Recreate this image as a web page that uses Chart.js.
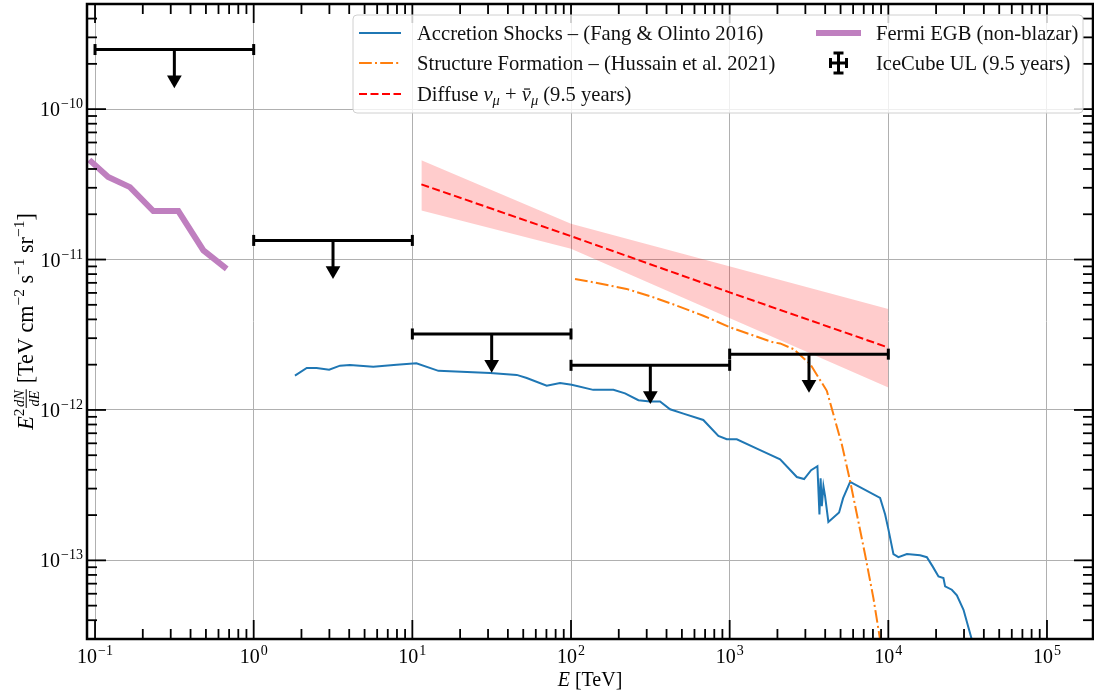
<!DOCTYPE html>
<html lang="en">
<head>
<meta charset="UTF-8">
<title>Neutrino flux upper limits</title>
<script src="https://cdn.jsdelivr.net/npm/chart.js@4.4.0/dist/chart.umd.min.js"></script>
<style>
  html, body { margin: 0; padding: 0; background: #fff; }
  #wrap { width: 1094px; height: 694px; }
</style>
</head>
<body>
<div id="wrap"><canvas id="c" width="1094" height="694"></canvas></div>
<script>
// energies in TeV, E^2 dN/dE in TeV cm^-2 s^-1 sr^-1
const fermiE = [0.092, 0.121, 0.166, 0.233, 0.335, 0.482, 0.676];
const fermiF = [4.6e-11, 3.54e-11, 3.03e-11, 2.10e-11, 2.10e-11, 1.15e-11, 8.67e-12];

const accE = [1.82, 2.16, 2.49, 2.99, 3.50, 4.04, 5.67, 7.96, 10.6, 14.6,
  30.9, 45.5, 52.6, 70.3, 85.3, 101, 138, 185, 219, 266,
  315, 364, 421, 511, 682, 849, 959, 1109, 1556, 2080,
  2651, 2946, 3261, 3573, 3680, 3743, 3809, 3899, 3994, 4190,
  4894, 5188, 5745, 8875, 9550, 10020, 10770, 11580, 13090, 15860,
  17490, 19020, 20710, 22250, 22800, 25130, 27040, 29780, 33600, 35260];
const accF = [1.69e-12, 1.90e-12, 1.90e-12, 1.85e-12, 1.97e-12, 1.99e-12, 1.94e-12, 2.00e-12, 2.04e-12, 1.82e-12,
  1.76e-12, 1.71e-12, 1.63e-12, 1.45e-12, 1.51e-12, 1.47e-12, 1.36e-12, 1.36e-12, 1.29e-12, 1.16e-12,
  1.14e-12, 1.14e-12, 1.01e-12, 9.45e-13, 8.58e-13, 6.71e-13, 6.38e-13, 6.38e-13, 5.41e-13, 4.69e-13,
  3.58e-13, 3.47e-13, 3.98e-13, 4.23e-13, 2.02e-13, 3.51e-13, 2.29e-13, 3.11e-13, 2.67e-13, 1.80e-13,
  2.08e-13, 2.59e-13, 3.33e-13, 2.60e-13, 2.02e-13, 1.60e-13, 1.10e-13, 1.05e-13, 1.10e-13, 1.08e-13,
  1.05e-13, 9.12e-14, 7.82e-14, 7.62e-14, 6.71e-14, 6.38e-14, 5.85e-14, 4.69e-14, 2.97e-14, 2.29e-14];

const sfE = [106, 138, 224, 323, 464, 682, 1007, 1888, 2080, 2523, 3216, 4096, 5090, 5745, 7140, 8054, 8875, 9270];
const sfF = [7.43e-12, 7.06e-12, 6.38e-12, 5.66e-12, 4.94e-12, 4.23e-12, 3.54e-12, 2.81e-12, 2.77e-12, 2.54e-12,
  2.02e-12, 1.34e-12, 5.91e-13, 3.36e-13, 1.09e-13, 5.61e-14, 2.97e-14, 1.55e-14];

const diffE = [11.4, 100, 1000, 10000];
const diffF = [3.16e-11, 1.43e-11, 6.05e-12, 2.6e-12];
const bandE = [11.4, 100, 10000];
const bandHi = [4.57e-11, 1.73e-11, 4.69e-12];
const bandLo = [2.12e-11, 1.18e-11, 1.41e-12];

const ulLo = [0.1, 1, 10, 100, 1000];
const ulHi = [1, 10, 100, 1000, 10000];
const ulVal = [2.49e-10, 1.34e-11, 3.20e-12, 1.98e-12, 2.35e-12];

const xDecades = [-1, 0, 1, 2, 3, 4, 5];
const yDecades = [-14, -13, -12, -11, -10];

const legendText = [
  'Accretion Shocks \u2013 (Fang & Olinto 2016)',
  'Structure Formation \u2013 (Hussain et al. 2021)',
  'Diffuse \u03bd\u03bc + \u03bd\u03bc (9.5 years)',
  'Fermi EGB (non-blazar)',
  'IceCube UL (9.5 years)'
];

const SERIF = '"Liberation Serif", "DejaVu Serif", serif';
const ARROW = 0.63; // arrow head centre sits this factor below the limit

const pts = (xs, ys) => xs.map((v, i) => ({ x: v, y: ys[i] }));

function logTicks(decades) {
  const out = [];
  decades.forEach(d => {
    for (let m = 1; m < 10; m++) out.push({ value: m * Math.pow(10, d), major: m === 1, exp: d });
  });
  return out;
}

const datasets = [
  { data: pts(bandE, bandLo), borderWidth: 0, pointRadius: 0, fill: false, order: 20 },
  { data: pts(bandE, bandHi), borderWidth: 0, pointRadius: 0, fill: '-1', backgroundColor: 'rgba(255,0,0,0.2)', order: 19 },
  { data: pts(fermiE, fermiF), borderColor: '#bf7fbf', borderWidth: 6, pointRadius: 0, order: 8 },
  { data: pts(accE, accF), borderColor: '#1f77b4', borderWidth: 2, pointRadius: 0, order: 7 },
  { data: pts(sfE, sfF), borderColor: '#ff7f0e', borderWidth: 2, borderDash: [12.8, 3.2, 2, 3.2], pointRadius: 0, order: 6 },
  { data: pts(diffE, diffF), borderColor: '#ff0000', borderWidth: 2, borderDash: [8, 3.5], pointRadius: 0, order: 5 }
];

ulVal.forEach((v, i) => {
  const c = Math.sqrt(ulLo[i] * ulHi[i]);
  datasets.push({
    data: [{ x: ulLo[i], y: v }, { x: ulHi[i], y: v }],
    borderColor: '#000', borderWidth: 3,
    pointStyle: 'line', pointRadius: 5.5, pointRotation: 90,
    pointBorderColor: '#000', pointBorderWidth: 3, order: 1
  });
  datasets.push({
    data: [{ x: c, y: v }, { x: c, y: v * ARROW }],
    borderColor: '#000', borderWidth: 3,
    pointStyle: 'triangle', pointRadius: [0, 8.5], pointRotation: 180,
    pointBackgroundColor: '#000', pointBorderWidth: 0, order: 1
  });
});

function runWidth(ctx, r) {
  ctx.font = r.f;
  if (r.frac) return Math.max(ctx.measureText(r.frac[0]).width, ctx.measureText(r.frac[1]).width) + 3;
  return ctx.measureText(r.t).width;
}

function drawRuns(ctx, runs, x, y) {
  ctx.textAlign = 'left';
  ctx.textBaseline = 'alphabetic';
  runs.forEach(r => {
    const w = runWidth(ctx, r);
    ctx.font = r.f;
    if (r.frac) {
      ctx.textAlign = 'center';
      ctx.fillText(r.frac[0], x + w / 2, y - 9);
      ctx.fillText(r.frac[1], x + w / 2, y + 5.5);
      ctx.fillRect(x + 0.5, y - 7.3, w - 1, 1);
      ctx.textAlign = 'left';
    } else {
      ctx.fillText(r.t, x, y + (r.dy || 0));
      if (r.macron) ctx.fillRect(x + w * 0.25, y - r.size * 0.6, w * 0.65, 1.2);
    }
    x += w;
  });
  return x;
}

function drawPow(ctx, exp, x, y, align) {
  const base = '10', sup = exp < 0 ? '\u2212' + (-exp) : String(exp);
  ctx.font = '20px ' + SERIF;
  const wb = ctx.measureText(base).width;
  ctx.font = '14px ' + SERIF;
  const ws = ctx.measureText(sup).width;
  const total = wb + ws + 1;
  const x0 = align === 'center' ? x - total / 2 : x - total;
  ctx.textAlign = 'left';
  ctx.textBaseline = 'alphabetic';
  ctx.font = '20px ' + SERIF;
  ctx.fillText(base, x0, y);
  ctx.font = '14px ' + SERIF;
  ctx.fillText(sup, x0 + wb + 1, y - 8);
}

function seg(ctx, x1, y1, x2, y2) {
  ctx.beginPath(); ctx.moveTo(x1, y1); ctx.lineTo(x2, y2); ctx.stroke();
}

function yTitleRuns(k) {
  const m = (20 * k) + 'px ' + SERIF, s = (14 * k) + 'px ' + SERIF;
  const d = -8 * k;
  return [
    { t: 'E', f: 'italic ' + m },
    { t: '2', f: s, dy: d },
    { frac: ['dN', 'dE'], f: 'italic ' + (13 * k) + 'px ' + SERIF },
    { t: ' [TeV cm', f: m },
    { t: '\u22122', f: s, dy: d },
    { t: ' s', f: m },
    { t: '\u22121', f: s, dy: d },
    { t: ' sr', f: m },
    { t: '\u22121', f: s, dy: d },
    { t: ']', f: m }
  ];
}

const decor = {
  id: 'decor',
  afterDatasetsDraw(chart) {
    const { ctx, chartArea: a, scales: { x, y } } = chart;
    ctx.save();
    ctx.strokeStyle = '#000';
    ctx.fillStyle = '#000';

    // inward ticks on all four sides
    ctx.lineWidth = 1.8;
    x.ticks.forEach(t => {
      const p = x.getPixelForValue(t.value);
      if (p < a.left + 1 || p > a.right - 1) return;
      const L = t.major ? 19 : 10;
      seg(ctx, p, a.bottom, p, a.bottom - L);
      seg(ctx, p, a.top, p, a.top + L);
    });
    y.ticks.forEach(t => {
      const p = y.getPixelForValue(t.value);
      if (p < a.top + 1 || p > a.bottom - 1) return;
      const L = t.major ? 19 : 10;
      seg(ctx, a.left, p, a.left + L, p);
      seg(ctx, a.right, p, a.right - L, p);
    });

    // spines
    ctx.lineWidth = 2.5;
    ctx.strokeRect(a.left, a.top, a.right - a.left, a.bottom - a.top);

    // tick labels
    x.ticks.filter(t => t.major).forEach(t => {
      drawPow(ctx, t.exp, x.getPixelForValue(t.value), a.bottom + 24, 'center');
    });
    y.ticks.filter(t => t.major).forEach(t => {
      drawPow(ctx, t.exp, a.left - 4, y.getPixelForValue(t.value) + 7, 'right');
    });

    // x title
    const xt = [
      { t: 'E', f: 'italic 20px ' + SERIF },
      { t: ' [TeV]', f: '20px ' + SERIF }
    ];
    const xw = xt.reduce((s, r) => s + runWidth(ctx, r), 0);
    drawRuns(ctx, xt, (a.left + a.right) / 2 - xw / 2, 686);

    // y title, rotated, sized to the reference length
    const w1 = yTitleRuns(1).reduce((s, r) => s + runWidth(ctx, r), 0);
    const k = Math.max(0.8, Math.min(1.2, 217 / w1));
    const yt = yTitleRuns(k);
    const yw = yt.reduce((s, r) => s + runWidth(ctx, r), 0);
    ctx.save();
    ctx.translate(33, (a.top + a.bottom) / 2);
    ctx.rotate(-Math.PI / 2);
    drawRuns(ctx, yt, -yw / 2, 0);
    ctx.restore();

    // legend
    ctx.font = '20px ' + SERIF;
    const probe = legendText.reduce((s, t) => s + ctx.measureText(t).width, 0);
    const LF = Math.max(15, Math.min(23, 20 * 1324 / probe));
    const nf = LF + 'px ' + SERIF, itf = 'italic ' + LF + 'px ' + SERIF, sbf = 'italic ' + (LF * 0.7) + 'px ' + SERIF;

    const bx = 353, by = 15, bw = 730, bh = 98;
    ctx.beginPath();
    ctx.roundRect(bx, by, bw, bh, 4);
    ctx.fillStyle = 'rgba(255,255,255,0.8)';
    ctx.fill();
    ctx.strokeStyle = '#d0d0d0';
    ctx.lineWidth = 1;
    ctx.stroke();

    const rows = [33, 63, 94];
    const c1h = [359, 401], c1t = 417, c2h = [816, 861], c2t = 876;
    ctx.lineCap = 'butt';
    // handles, column 1
    ctx.lineWidth = 2;
    ctx.strokeStyle = '#1f77b4'; ctx.setLineDash([]);
    seg(ctx, c1h[0], rows[0], c1h[1], rows[0]);
    ctx.strokeStyle = '#ff7f0e'; ctx.setLineDash([12.8, 3.2, 2, 3.2]);
    seg(ctx, c1h[0], rows[1], c1h[1], rows[1]);
    ctx.strokeStyle = '#ff0000'; ctx.setLineDash([8, 3.5]);
    seg(ctx, c1h[0], rows[2], c1h[1], rows[2]);
    ctx.setLineDash([]);
    // handles, column 2
    ctx.strokeStyle = '#bf7fbf'; ctx.lineWidth = 6;
    seg(ctx, c2h[0], rows[0], c2h[1], rows[0]);
    ctx.strokeStyle = '#000'; ctx.lineWidth = 3;
    const ix = (c2h[0] + c2h[1]) / 2, iy = rows[1];
    seg(ctx, ix - 8, iy, ix + 8, iy);
    seg(ctx, ix - 8, iy - 5, ix - 8, iy + 5);
    seg(ctx, ix + 8, iy - 5, ix + 8, iy + 5);
    seg(ctx, ix, iy - 10, ix, iy + 10);
    seg(ctx, ix - 5, iy - 10, ix + 5, iy - 10);
    seg(ctx, ix - 5, iy + 10, ix + 5, iy + 10);

    ctx.fillStyle = '#111';
    const off = LF * 0.33;
    drawRuns(ctx, [{ t: legendText[0], f: nf }], c1t, rows[0] + off);
    drawRuns(ctx, [{ t: legendText[1], f: nf }], c1t, rows[1] + off);
    drawRuns(ctx, [
      { t: 'Diffuse ', f: nf },
      { t: '\u03bd', f: itf },
      { t: '\u03bc', f: sbf, dy: 4 },
      { t: ' + ', f: nf },
      { t: '\u03bd', f: itf, macron: true, size: LF },
      { t: '\u03bc', f: sbf, dy: 4 },
      { t: ' (9.5 years)', f: nf }
    ], c1t, rows[2] + off);
    drawRuns(ctx, [{ t: legendText[3], f: nf }], c2t, rows[0] + off);
    drawRuns(ctx, [{ t: legendText[4], f: nf }], c2t, rows[1] + off);

    ctx.restore();
  }
};

const tickBuilder = decades => scale => {
  scale.ticks = logTicks(decades).filter(t => t.value >= scale.min && t.value <= scale.max);
};
const gridColor = c => (c.tick && c.tick.major ? '#b0b0b0' : 'rgba(0,0,0,0)');

new Chart(document.getElementById('c'), {
  type: 'line',
  data: { datasets: datasets },
  options: {
    responsive: false,
    animation: false,
    events: [],
    layout: { autoPadding: false, padding: { left: 87, top: 4, right: 1, bottom: 55 } },
    plugins: { legend: { display: false }, tooltip: { enabled: false } },
    elements: { line: { tension: 0 } },
    scales: {
      x: {
        type: 'logarithmic', min: 0.089, max: 1.95e5,
        ticks: { display: false },
        grid: { color: gridColor, lineWidth: 1, drawTicks: false },
        border: { display: false },
        afterBuildTicks: tickBuilder(xDecades)
      },
      y: {
        type: 'logarithmic', min: 3e-14, max: 5e-10,
        ticks: { display: false },
        grid: { color: gridColor, lineWidth: 1, drawTicks: false },
        border: { display: false },
        afterBuildTicks: tickBuilder(yDecades)
      }
    }
  },
  plugins: [decor]
});
</script>
</body>
</html>
